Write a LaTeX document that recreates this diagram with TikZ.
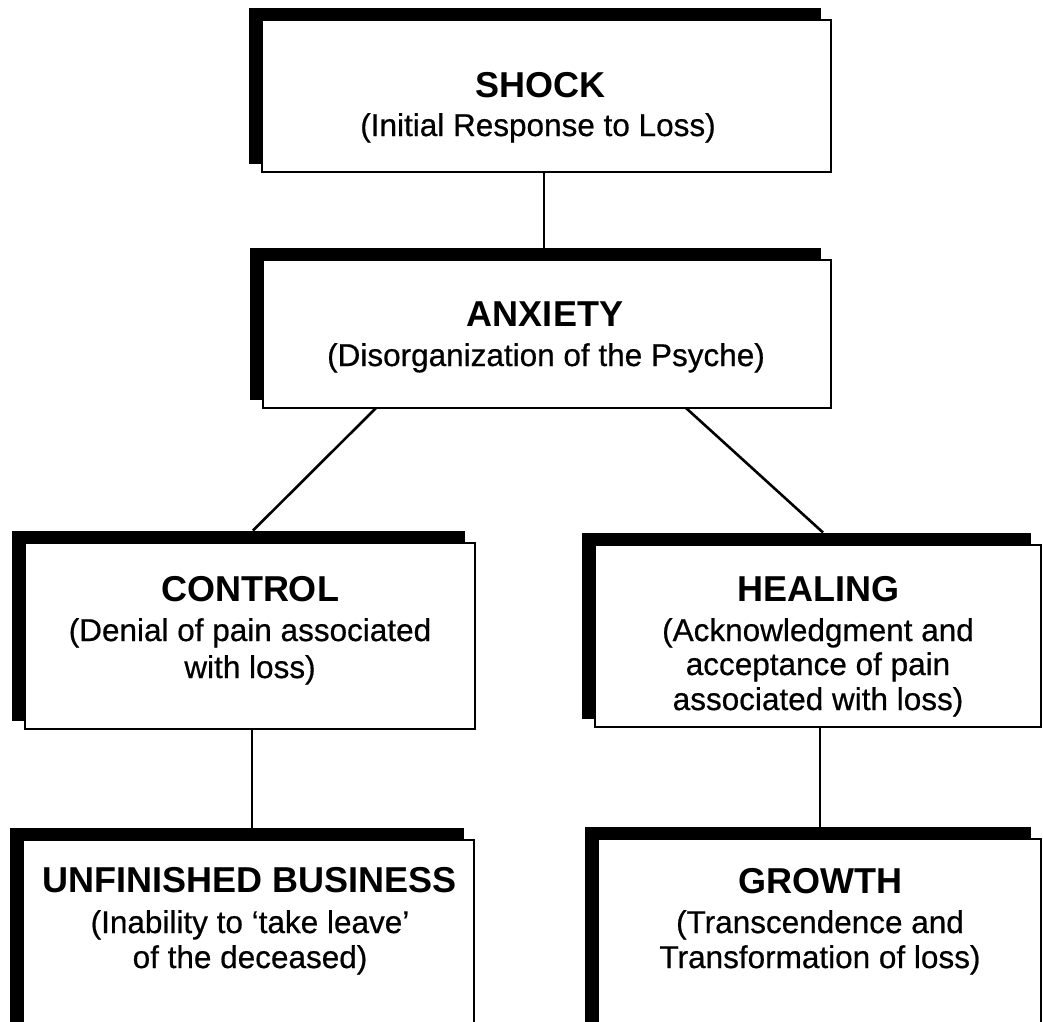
\documentclass[tikz,border=0pt]{standalone}
\usepackage{fontspec}
\setmainfont{Liberation Sans}
\newfontfamily\subfnt[FakeBold=0.6]{Liberation Sans}
\usetikzlibrary{backgrounds}
\begin{document}
\begin{tikzpicture}[x=1pt,y=-1pt,
  box/.style={draw=black, line width=2.6pt, fill=white, rectangle, inner sep=0pt, outer sep=0pt},
  ttl/.style={font=\fontsize{36}{40}\selectfont\bfseries, anchor=base, inner sep=0pt},
  sub/.style={font=\fontsize{31.5}{34}\selectfont\subfnt, anchor=base, inner sep=0pt},
  link/.style={line width=2.6pt},
  shadowfill/.style={fill=black}]
\useasboundingbox (0,0) rectangle (1043,1021);

% boxes
\node[box, minimum width=569pt, minimum height=152pt] (shock) at (546.5,96) {};
\node[box, minimum width=568pt, minimum height=148pt] (anxiety) at (547,334) {};
\node[box, minimum width=450pt, minimum height=186pt] (control) at (250,636) {};
\node[box, minimum width=446pt, minimum height=182pt] (healing) at (818,636) {};
\node[box, minimum width=451pt, minimum height=195pt] (unfinished) at (248.5,937.5) {};
\node[box, minimum width=443pt, minimum height=196pt] (growth) at (819.5,937) {};

% shadows
\begin{scope}[on background layer]
  \foreach \b in {shock,anxiety,control,healing,unfinished,growth}{
    \fill[shadowfill] ([xshift=-13pt,yshift=12.5pt]\b.north west) rectangle ([xshift=-10pt,yshift=8pt]\b.south east);
  }
\end{scope}

% texts
\node[ttl] (t1) at (540,97) {SHOCK};
\node[sub] (s1) at (538,136) {(Initial Response to Loss)};

\node[ttl] (t2) at (545,326) {ANXIETY};
\node[sub] (s2) at (546,366) {(Disorganization of the Psyche)};

\node[ttl] (t3) at (250,601) {CONTROL};
\node[sub] (s3a) at (250,641) {(Denial of pain associated};
\node[sub] (s3b) at (250,678) {with loss)};

\node[ttl] (t4) at (818,601) {HEALING};
\node[sub] (s4a) at (818,641) {(Acknowledgment and};
\node[sub] (s4b) at (818,675) {acceptance of pain};
\node[sub] (s4c) at (818,710) {associated with loss)};

\node[ttl] (t5) at (250,892) {UNFINISHED BUSINESS};
\node[sub] (s5a) at (250,933) {(Inability to ‘take leave’};
\node[sub] (s5b) at (250,968) {of the deceased)};

\node[ttl] (t6) at (820,893) {GROWTH};
\node[sub] (s6a) at (820,933) {(Transcendence and};
\node[sub] (s6b) at (820,968) {Transformation of loss)};

% connectors
\draw[link] ([xshift=-2.5pt]shock.south) -- ([xshift=-3pt,yshift=12.5pt]anxiety.north);
\draw[link] ([xshift=-171pt]anxiety.south) -- ([xshift=3pt,yshift=12.5pt]control.north);
\draw[link] ([xshift=139pt]anxiety.south) -- ([xshift=5pt,yshift=12.5pt]healing.north);
\draw[link] ([xshift=2pt]control.south) -- ([xshift=3.5pt,yshift=12.5pt]unfinished.north);
\draw[link] ([xshift=2pt]healing.south) -- ([xshift=0.5pt,yshift=12.5pt]growth.north);
\end{tikzpicture}
\end{document}
